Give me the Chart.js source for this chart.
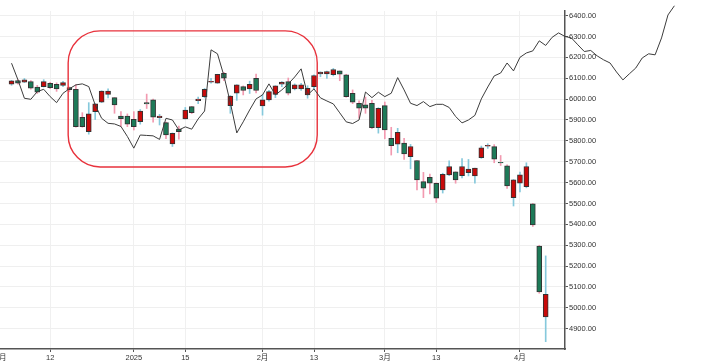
<!DOCTYPE html>
<html>
<head>
<meta charset="utf-8">
<script src="https://cdn.jsdelivr.net/npm/chart.js@4/dist/chart.umd.min.js"></script>
<style>
  html, body { margin: 0; padding: 0; background: #fff; overflow: hidden; width: 706px; height: 362px; }
  .layer { position: absolute; left: -20px; top: 0; }
</style>
</head>
<body>
<canvas id="candles" class="layer" width="726" height="362"></canvas>
<canvas id="overlay" class="layer" width="726" height="362"></canvas>
<script>
// trading day index 0 = 2 Dec 2024, candles start on day 2
const firstDay = 2;
const tickDays = [0, 8, 21, 29, 41, 49, 60, 68, 81];
const tickLabels = ["12月", "12", "2025", "15", "2月", "13", "3月", "13", "4月"];

const opens = [6071, 6089, 6081, 6084, 6057, 6060, 6076, 6071, 6065, 6055, 6047, 5913, 5844, 5940, 5985, 6023, 6007, 5919, 5919, 5903,
  5892, 5983, 5996, 5911, 5887, 5785, 5857, 5905, 5964, 5993, 6012, 6081, 6076, 6124, 5969, 6028, 6060, 6049, 6100, 5967,
  5996, 6023, 6071, 6084, 6049, 6049, 6020, 6060, 6121, 6121, 6117, 6135, 6116, 6028, 5980, 5972, 5980, 5863, 5969, 5812,
  5784, 5789, 5724, 5706, 5605, 5625, 5597, 5565, 5637, 5652, 5633, 5648, 5632, 5720, 5774, 5772, 5697, 5680, 5528, 5597,
  5581, 5498, 5296, 4957];
const highs = [6090, 6092, 6099, 6089, 6066, 6093, 6080, 6078, 6085, 6058, 6070, 5935, 5983, 5978, 6040, 6049, 6007, 5940, 5929, 5940,
  5950, 6024, 6000, 5927, 5890, 5838, 5871, 5960, 5965, 6010, 6051, 6100, 6119, 6128, 6017, 6069, 6063, 6086, 6120, 6022,
  6042, 6064, 6084, 6101, 6073, 6076, 6064, 6116, 6131, 6134, 6147, 6135, 6119, 6044, 5992, 6010, 5994, 5959, 5986, 5865,
  5860, 5812, 5783, 5706, 5649, 5641, 5599, 5645, 5704, 5652, 5715, 5711, 5670, 5775, 5786, 5782, 5730, 5685, 5615, 5650,
  5695, 5500, 5300, 5249];
const lows = [6066, 6072, 6079, 6048, 6027, 6058, 6050, 6037, 6060, 6035, 5866, 5865, 5832, 5902, 5983, 6006, 5932, 5869, 5868, 5852,
  5880, 5955, 5890, 5876, 5810, 5773, 5808, 5904, 5930, 5978, 6006, 6076, 6075, 6088, 5932, 5994, 6020, 6027, 6030, 5923,
  5990, 6007, 6060, 6020, 6044, 6042, 6004, 6050, 6107, 6099, 6111, 6088, 6009, 5978, 5909, 5932, 5858, 5837, 5810, 5732,
  5743, 5711, 5666, 5565, 5528, 5546, 5505, 5550, 5633, 5597, 5622, 5632, 5597, 5716, 5764, 5695, 5682, 5572, 5488, 5555,
  5575, 5390, 5070, 4838];
const closes = [6087, 6076, 6092, 6052, 6033, 6084, 6055, 6049, 6079, 6045, 5868, 5868, 5929, 5977, 6039, 6039, 5972, 5906, 5880, 5868,
  5943, 5977, 5913, 5919, 5828, 5836, 5844, 5948, 5935, 6000, 6047, 6085, 6119, 6100, 6015, 6068, 6041, 6071, 6041, 5996,
  6036, 6063, 6081, 6028, 6068, 6068, 6052, 6113, 6129, 6132, 6142, 6119, 6012, 5985, 5956, 5956, 5863, 5956, 5852, 5777,
  5841, 5737, 5773, 5613, 5573, 5597, 5525, 5640, 5677, 5613, 5677, 5665, 5669, 5767, 5778, 5712, 5694, 5584, 5613, 5637,
  5677, 5397, 5077, 5065];

// comparison line, also from day 2, runs past the last candle
const lineValues = [6172, 6092, 6004, 5999, 6036, 6047, 6012, 5983, 6028, 6050, 6068, 6073, 6060, 5972, 5908, 5884, 5881, 5869, 5821, 5765,
  5828, 5826, 5824, 5807, 5908, 5900, 5852, 5867, 5856, 5905, 5943, 6236, 6217, 6112, 5982, 5838, 5891, 5948, 6001, 6020,
  6073, 6020, 6044, 6073, 6106, 6145, 6020, 6049, 6006, 5991, 5977, 5934, 5891, 5883, 5900, 6034, 6007, 6033, 6012, 6028,
  6103, 6044, 5980, 5969, 5988, 5964, 5975, 5975, 5960, 5917, 5886, 5900, 5922, 6001, 6058, 6111, 6125, 6173, 6135, 6200,
  6221, 6231, 6279, 6257, 6296, 6317, 6300, 6293, 6260, 6228, 6233, 6207, 6188, 6173, 6130, 6092, 6121, 6149, 6197, 6217,
  6212, 6293, 6403, 6447];

// highlighted range (red rounded box)
const boxDays = [10.8, 49.5];
const boxValues = [6327, 5675];

const UP = "#c80a0a", DOWN = "#1d7a58", UP_WICK = "#86c9dc", DOWN_WICK = "#f29ab0";

const isUp = opens.map((o, k) => closes[k] >= o);
const wickData = opens.map((o, k) => ({ x: firstDay + k, y: [lows[k], highs[k]] }));
const bodyData = opens.map((o, k) => ({ x: firstDay + k, y: [o, closes[k]] }));
const lineData = lineValues.map((v, k) => ({ x: firstDay + k, y: v }));

const font = { family: "'Liberation Sans', Arial, 'Noto Sans CJK SC', sans-serif", size: 7.5 };

const boxPlugin = {
  id: "box",
  afterDatasetsDraw(chart) {
    const { ctx, scales: { x, y } } = chart;
    const x1 = x.getPixelForValue(boxDays[0]), x2 = x.getPixelForValue(boxDays[1]);
    const y1 = y.getPixelForValue(boxValues[0]), y2 = y.getPixelForValue(boxValues[1]);
    ctx.save();
    ctx.strokeStyle = "#e8323c";
    ctx.lineWidth = 1.4;
    ctx.beginPath();
    ctx.roundRect(x1, y1, x2 - x1, y2 - y1, 32);
    ctx.stroke();
    ctx.restore();
  }
};

const chart = new Chart(document.getElementById("candles"), {
  type: "bar",
  data: {
    datasets: [
      { data: wickData, backgroundColor: isUp.map(u => u ? UP_WICK : DOWN_WICK), barThickness: 1, grouped: false, order: 2 },
      { data: bodyData, backgroundColor: isUp.map(u => u ? UP : DOWN), borderColor: "#333", borderWidth: 1,
        borderSkipped: false, barThickness: 5, grouped: false, order: 1 }
    ]
  },
  options: {
    responsive: false,
    animation: false,
    events: [],
    layout: { padding: { top: 11, left: 0, right: 0, bottom: 0 } },
    plugins: { legend: { display: false }, tooltip: { enabled: false } },
    scales: {
      x: {
        type: "linear", min: -2.9, max: 88, offset: false,
        grid: { color: "#f0f0f0", offset: false, tickColor: "#555", tickLength: 3 },
        border: { color: "#555", width: 1.5 },
        afterBuildTicks: s => { s.ticks = tickDays.map(v => ({ value: v })); },
        afterFit: s => { s.height = 13; },
        ticks: { font, color: "#333", padding: 1, autoSkip: false, maxRotation: 0,
          callback: v => tickLabels[tickDays.indexOf(v)] }
      },
      y: {
        position: "right", min: 4803, max: 6422,
        grid: { color: "#efefef", tickColor: "#555", tickLength: 3 },
        border: { color: "#555", width: 1.5 },
        afterFit: s => { s.width = 141; },
        ticks: { stepSize: 100, includeBounds: false, font, color: "#333", padding: 1,
          callback: v => v.toFixed(2) }
      }
    }
  },
  plugins: [boxPlugin]
});

// the line is drawn on a second canvas so it can run past the price axis
const xs = chart.scales.x, ys = chart.scales.y;
new Chart(document.getElementById("overlay"), {
  type: "line",
  data: {
    datasets: [{ data: lineData, borderColor: "#3c3c3c", borderWidth: 1, pointRadius: 0, tension: 0, fill: false }]
  },
  options: {
    responsive: false,
    animation: false,
    events: [],
    layout: { padding: 0 },
    plugins: { legend: { display: false }, tooltip: { enabled: false } },
    scales: {
      x: { type: "linear", display: false, min: xs.getValueForPixel(0), max: xs.getValueForPixel(726) },
      y: { type: "linear", display: false, min: ys.getValueForPixel(362), max: ys.getValueForPixel(0) }
    }
  }
});
</script>
</body>
</html>
